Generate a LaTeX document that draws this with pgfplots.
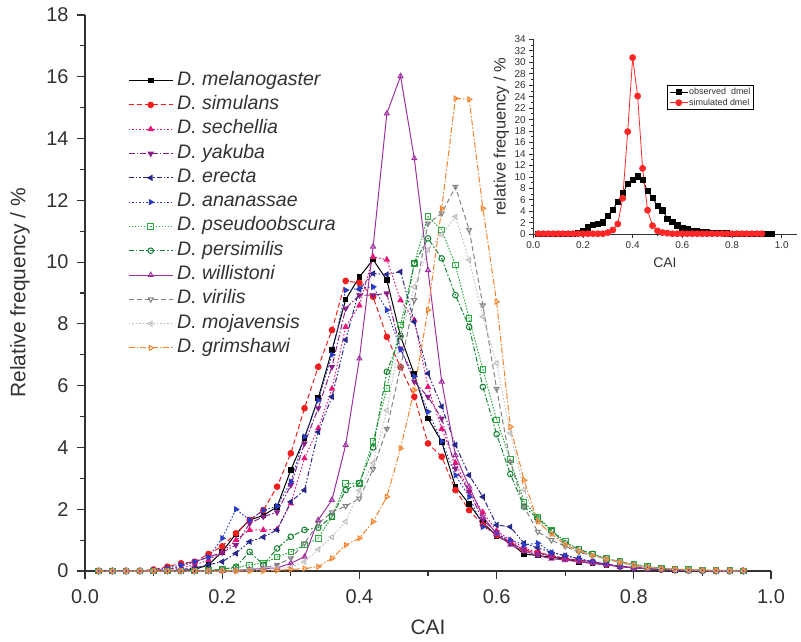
\documentclass[border=0pt]{standalone}
\usepackage{fontspec}
\setmainfont{Liberation Sans}
\usepackage{pgfplots}
\pgfplotsset{compat=1.18}
\usepackage{pgfplotstable}

\definecolor{txt}{RGB}{50,50,50}
\definecolor{cred}{RGB}{240,30,30}
\definecolor{cpink}{RGB}{235,20,120}
\definecolor{cyak}{RGB}{140,30,140}
\definecolor{cere}{RGB}{40,40,140}
\definecolor{cana}{RGB}{40,60,200}
\definecolor{cpse}{RGB}{40,170,60}
\definecolor{cper}{RGB}{20,130,50}
\definecolor{cwil}{RGB}{160,50,160}
\definecolor{cvir}{RGB}{130,130,130}
\definecolor{cmoj}{RGB}{190,190,190}
\definecolor{cgri}{RGB}{245,130,40}

% relative frequency (%) per CAI bin
\pgfplotstableread{
x    mel   sim   sec   yak   ere   ana   pse   per   wil   vir   moj   gri
0.02 0     0     0     0     0     0     0     0     0     0     0     0
0.04 0     0     0     0     0     0     0     0     0     0     0     0
0.06 0     0     0     0     0     0     0     0     0     0     0     0
0.08 0     0     0     0     0     0     0     0     0     0     0     0
0.10 0     0.05  0     0.02  0     0.03  0     0     0     0     0     0
0.12 0     0.14  0.05  0.05  0     0.1   0     0     0     0     0     0
0.14 0.02  0.25  0.1   0.15  0.05  0.2   0     0     0     0     0     0
0.16 0.05  0.3   0.2   0.3   0.1   0.3   0     0     0     0     0     0
0.18 0.2   0.55  0.35  0.45  0.2   0.45  0.02  0.02  0     0     0     0
0.20 0.62  0.8   0.6   0.6   0.3   1.06  0.05  0.05  0     0     0     0
0.22 1.2   1.22  1.0   0.84  0.57  2.0   0.1   0.14  0.02  0.02  0     0
0.24 1.65  1.65  1.33  1.54  0.95  1.65  0.2   0.62  0.05  0.05  0.02  0
0.26 1.8   1.97  1.33  1.76  1.1   1.97  0.25  0.2   0.08  0.1   0.05  0
0.28 2.08  2.73  1.35  1.9   1.33  2.1   0.45  0.73  0.1   0.2   0.08  0.02
0.30 3.27  3.81  2.19  2.78  2.24  2.89  0.62  1.11  0.25  0.41  0.12  0.05
0.32 4.3   5.27  3.65  4.13  2.62  4.35  0.84  1.33  0.46  0.9   0.3   0.08
0.34 5.6   6.61  4.62  5.27  4.5   5.53  1.06  1.4   1.65  1.54  0.7   0.14
0.36 7.15  7.8   5.9   6.61  5.64  7.0   1.76  1.76  2.3   1.9   1.1   0.41
0.38 8.79  9.39  7.9   8.5   7.48  9.09  2.84  2.62  4.08  2.1   1.6   0.84
0.40 9.52  9.33  8.6   8.93  9.12  9.15  2.84  2.84  6.88  2.35  2.6   1.06
0.42 10.08 8.88  10.17 8.93  9.63  9.2   4.2   4.0   10.5  3.3   3.5   1.6
0.44 9.42  7.58  10.08 8.99  9.6   8.45  5.91  6.45  14.81 4.6   5.2   2.4
0.46 7.6   6.6   8.77  7.2   9.69  7.17  7.96  7.6   16.02 6.61  7.6   3.97
0.48 6.37  5.64  8.12  6.13  8.07  6.3   9.96  9.96  13.36 8.77  9.2   5.86
0.50 4.94  4.13  5.96  5.64  6.4   5.16  11.47 10.77 9.74  11.25 10.4  8.45
0.52 4.18  3.7   4.6   4.94  5.32  4.2   11.04 10.12 6.13  11.58 10.9  11.74
0.54 2.73  2.62  3.5   3.32  4.08  3.1   9.9   8.93  3.75  12.44 11.47 15.3
0.56 2.17  1.97  2.6   2.57  3.1   2.4   8.18  7.9   2.73  11.04 10.07 15.27
0.58 1.56  1.49  1.9   1.65  2.4   1.43  6.53  5.96  1.76  8.6   8.23  11.74
0.60 1.14  1.16  1.3   1.25  1.49  1.2   4.89  4.43  1.2   5.9   6.72  8.72
0.62 0.9   0.95  1.0   0.9   1.43  1.0   3.6   3.14  0.85  3.54  4.46  4.67
0.64 0.55  0.67  0.75  0.7   0.9   0.85  2.24  2.08  0.65  2.08  2.62  2.94
0.66 0.5   0.6   0.6   0.55  0.75  0.9   1.75  1.7   0.5   1.27  1.6   1.6
0.68 0.45  0.5   0.5   0.5   0.6   0.6   1.33  1.3   0.4   1.0   1.2   1.2
0.70 0.38  0.4   0.4   0.4   0.5   0.5   0.95  0.9   0.35  0.8   0.9   0.85
0.72 0.3   0.35  0.35  0.35  0.4   0.4   0.7   0.7   0.3   0.6   0.7   0.65
0.74 0.25  0.28  0.3   0.3   0.3   0.3   0.55  0.55  0.25  0.5   0.5   0.5
0.76 0.2   0.2   0.22  0.22  0.22  0.22  0.4   0.4   0.2   0.4   0.4   0.38
0.78 0.15  0.15  0.15  0.15  0.15  0.15  0.3   0.3   0.15  0.3   0.3   0.28
0.80 0.1   0.1   0.1   0.1   0.1   0.1   0.22  0.2   0.1   0.2   0.2   0.18
0.82 0.08  0.08  0.08  0.08  0.08  0.08  0.15  0.12  0.08  0.12  0.12  0.12
0.84 0.05  0.05  0.05  0.05  0.05  0.05  0.1   0.08  0.05  0.08  0.08  0.08
0.86 0.03  0.03  0.03  0.03  0.03  0.03  0.06  0.05  0.03  0.05  0.05  0.06
0.88 0.02  0.02  0.02  0.02  0.02  0.02  0.04  0.03  0.02  0.03  0.03  0.04
0.90 0.01  0.01  0.01  0.01  0.01  0.01  0.03  0.02  0.01  0.02  0.02  0.03
0.92 0     0     0     0     0     0     0.02  0.01  0     0.01  0.01  0.02
0.94 0     0     0     0     0     0     0.01  0     0     0     0     0.02
0.96 0     0     0     0     0     0     0     0     0     0     0     0.02
}\data

% simulated dmel (inset)
\pgfplotstableread{
x    sim
0.02 0.1
0.04 0.1
0.06 0.1
0.08 0.1
0.10 0.1
0.12 0.1
0.14 0.1
0.16 0.1
0.18 0.1
0.20 0.1
0.22 0.1
0.24 0.1
0.26 0.1
0.28 0.1
0.30 0.3
0.32 0.75
0.34 1.8
0.36 6.3
0.38 17.9
0.40 30.8
0.42 24.1
0.44 11.5
0.46 4.2
0.48 1.5
0.50 0.6
0.52 0.3
0.54 0.2
0.56 0.1
0.58 0.1
0.60 0.1
0.62 0.1
0.64 0.1
0.66 0.1
0.68 0.1
0.70 0.1
0.72 0.1
0.74 0.1
0.76 0.1
0.78 0.1
0.80 0.1
0.82 0.1
0.84 0.1
0.86 0.1
0.88 0.1
0.90 0.1
0.92 0.1
}\simdata

\pgfplotsset{
  sp/.style={line width=1bp, mark size=2.8bp, mark options={solid}},
  frame/.style={
    scale only axis,
    axis lines=left,
    axis line style={-, line width=1.2bp, txt},
    every tick/.style={line width=1.1bp, txt},
    tick align=outside,
    /pgf/number format/assume math mode=true,
    xticklabel style={/pgf/number format/fixed, /pgf/number format/fixed zerofill,
      /pgf/number format/precision=1},
    label style={text=txt},
    tick label style={text=txt},
  },
}

\begin{document}
\begin{tikzpicture}
\begin{axis}[frame,
  at={(0bp,0bp)}, anchor=south west,
  width=686bp, height=556bp,
  xmin=0, xmax=1, ymin=0, ymax=18,
  xtick={0,0.2,...,1.0}, minor x tick num=1,
  ytick={0,2,...,18}, minor y tick num=1,
  major tick length=8bp, minor tick length=4.5bp,
  tick label style={font=\fontsize{20}{20}\selectfont},
  xticklabel style={yshift=-7bp},
  yticklabel style={xshift=-5bp},
  xlabel={CAI}, ylabel={Relative frequency / \%},
  label style={font=\fontsize{21}{21}\selectfont},
  xlabel style={at={(axis description cs:0.5,-0.1007)}, anchor=center},
  ylabel style={at={(axis description cs:-0.0948,0.5)}, anchor=center},
  legend style={at={(0.0627,0.8994)}, anchor=north west, draw=none, fill=none,
    font=\fontsize{19.6}{19.6}\selectfont, text=txt, row sep=5.3bp, column sep=3bp,
    inner sep=0pt, nodes={inner sep=1bp, text height=13bp, text depth=4bp}},
  legend cell align=left,
  legend image code/.code={\draw[mark repeat=2,mark phase=2,#1] plot coordinates {(0bp,0bp) (22bp,0bp) (44bp,0bp)};},
]
\addplot[sp, black, mark=square*, mark size=2.3bp] table[x=x, y=mel] {\data};
\addlegendentry{\textit{D. melanogaster}}
\addplot[sp, cred, dash pattern=on 5bp off 3bp, mark=*] table[x=x, y=sim] {\data};
\addlegendentry{\textit{D. simulans}}
\addplot[sp, cpink, dash pattern=on 1.5bp off 2bp, mark=triangle*] table[x=x, y=sec] {\data};
\addlegendentry{\textit{D. sechellia}}
\addplot[sp, cyak, dash pattern=on 6bp off 2bp on 1.5bp off 2bp, mark=triangle*, mark options={solid, rotate=180}] table[x=x, y=yak] {\data};
\addlegendentry{\textit{D. yakuba}}
\addplot[sp, cere, dash pattern=on 5bp off 2bp on 1.5bp off 2bp on 1.5bp off 2bp, mark=triangle*, mark options={solid, rotate=90}] table[x=x, y=ere] {\data};
\addlegendentry{\textit{D. erecta}}
\addplot[sp, cana, dash pattern=on 1.5bp off 2bp, mark=triangle*, mark options={solid, rotate=-90}] table[x=x, y=ana] {\data};
\addlegendentry{\textit{D. ananassae}}
\addplot[sp, cpse, dash pattern=on 1.5bp off 1.5bp, mark=square, mark options={solid, fill=white}] table[x=x, y=pse] {\data};
\addlegendentry{\textit{D. pseudoobscura}}
\addplot[sp, cper, dash pattern=on 5bp off 2bp on 1.5bp off 2bp, mark=o, mark options={solid, fill=white}] table[x=x, y=per] {\data};
\addlegendentry{\textit{D. persimilis}}
\addplot[sp, cwil, mark=triangle, mark options={solid, fill=white}] table[x=x, y=wil] {\data};
\addlegendentry{\textit{D. willistoni}}
\addplot[sp, cvir, dash pattern=on 5bp off 3bp, mark=triangle, mark options={solid, fill=white, rotate=180}] table[x=x, y=vir] {\data};
\addlegendentry{\textit{D. virilis}}
\addplot[sp, cmoj, dash pattern=on 1.5bp off 2bp, mark=triangle, mark options={solid, fill=white, rotate=90}] table[x=x, y=moj] {\data};
\addlegendentry{\textit{D. mojavensis}}
\addplot[sp, cgri, dash pattern=on 6bp off 2bp on 1.5bp off 2bp, mark=triangle, mark options={solid, fill=white, rotate=-90}] table[x=x, y=gri] {\data};
\addlegendentry{\textit{D. grimshawi}}
\end{axis}

\begin{axis}[frame,
  at={(448.3bp,336.7bp)}, anchor=south west,
  width=263.3bp, height=195bp,
  xmin=0, xmax=1.06, ymin=0, ymax=34,
  xtick={0,0.2,...,1.0}, minor x tick num=1,
  ytick={0,2,...,34}, minor y tick num=1,
  major tick length=4bp, minor tick length=2.2bp,
  axis line style={-, line width=0.9bp, txt},
  every tick/.style={line width=0.8bp, txt},
  tick label style={font=\fontsize{10}{10}\selectfont},
  xlabel={CAI}, ylabel={relative frequency / \%},
  xlabel style={font=\fontsize{14}{14}\selectfont, at={(axis description cs:0.5,-0.144)}, anchor=center},
  ylabel style={font=\fontsize{16.5}{16.5}\selectfont, at={(axis description cs:-0.1215,0.5)}, anchor=center},
  legend style={at={(0.508,0.766)}, anchor=north west, draw=black, line width=0.6bp, fill=white,
    font=\fontsize{9}{9}\selectfont, text=txt, inner sep=2bp, row sep=0.5bp,
    nodes={inner sep=1bp}},
  legend cell align=left,
  legend image code/.code={\draw[mark repeat=2,mark phase=2,#1] plot coordinates {(0bp,0bp) (9bp,0bp) (18bp,0bp)};},
]
\addplot[black, line width=0.8bp, mark=square*, mark size=2.6bp] table[x=x, y=mel] {\data};
\addlegendentry{observed\ \ dmel}
\addplot[red!85!white, line width=0.8bp, mark=*, mark size=3bp] table[x=x, y=sim] {\simdata};
\addlegendentry{simulated dmel}
\end{axis}

\pgfresetboundingbox
\useasboundingbox (-85bp,-71bp) rectangle (716bp,571bp);
\end{tikzpicture}
\end{document}
